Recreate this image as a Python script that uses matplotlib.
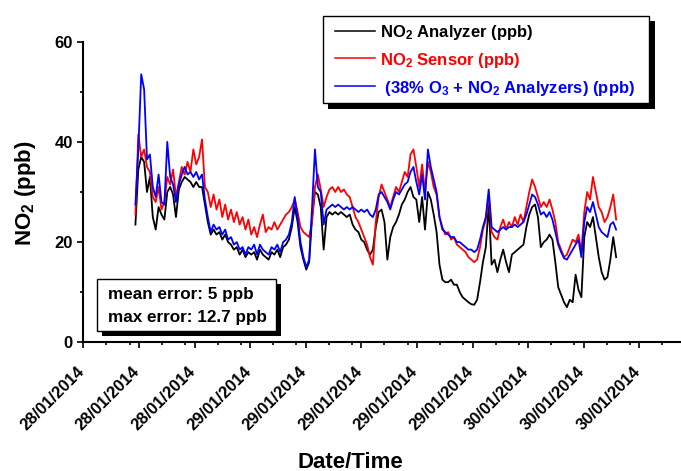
import matplotlib.pyplot as plt
import matplotlib.transforms as mtransforms
from matplotlib.patches import Rectangle
from matplotlib.lines import Line2D
import numpy as np

plt.rcParams['font.family'] = ['Liberation Sans', 'DejaVu Sans']
plt.rcParams['font.weight'] = 'bold'
plt.rcParams['mathtext.fontset'] = 'custom'
plt.rcParams['mathtext.rm'] = 'Liberation Sans:bold'
plt.rcParams['mathtext.it'] = 'Liberation Sans:bold'
plt.rcParams['mathtext.bf'] = 'Liberation Sans:bold'

# time in hours since 28/01/2014 00:00, one reading every 15 min
hours = np.arange(16.5, 58.01, 0.25)

analyzer = [
    23.5, 34.5,
    37, 36, 30, 33,   25, 22.5, 27, 25.5,   24.5, 30, 31, 29.5,   25, 30.5, 32, 33,
    32.5, 32, 31, 32,   31, 31, 27.5, 24,   21.5, 22.5, 21.5, 22,   20.5, 21.5, 20, 19.5,
    18.5, 19, 17.5, 18.5,   17, 18, 17.5, 18,   16.5, 18.5, 17.5, 17,   16.5, 18, 17.5, 18.5,
    17, 19, 19.5, 20.5,   23, 27, 24, 19,   16.5, 14.5, 16, 25,   30, 29.5, 27, 18.5,
    25, 26, 25.5, 26,   25.5, 26, 25.5, 25,   25.5, 23.5, 22.5, 22,   20.5, 20, 18.5, 17.5,
    18.5, 23, 26, 26.5,   24, 16.5, 21, 23,   24, 25.5, 27.5, 28.5,   30, 31, 29, 28.5,
    24, 29, 22.5, 30,   28.5, 25.5, 22, 15.5,   12.5, 12, 12, 12.5,   11.5, 11.5, 10, 9,
    8.5, 8, 7.6, 7.5,   8.5, 12, 16, 19,   27.5, 15.5, 16.5, 14,   16.5, 18.5, 16, 14,
    17.5, 18, 18.5, 19,   19.5, 23, 25.5, 27,   27.5, 25, 19, 20,   20.5, 21.5, 20.5, 16,
    11, 9.5, 8, 7,   8.5, 8, 13.5, 10.5,   9, 21, 24, 23,   25, 21, 17, 14,
    12.5, 13, 16.5, 21,
    17,
]

sensor = [
    25.5, 41.5,
    37, 38.5, 35, 34,   29, 28, 31, 26.5,   28, 33, 31.5, 34.5,   29, 32, 35, 33.5,
    36, 34, 38.5, 35.5,   37, 40.5, 31, 30,   27, 29.5, 26.5, 28.5,   25, 27.5, 24.5, 26.5,
    24, 26, 23.5, 25,   22.5, 24.5, 21.5, 23,   21, 23.5, 25.5, 22,   23, 22.5, 24, 22.5,
    23.5, 24.5, 25.5, 26,   27, 28.5, 26, 23,   22, 21.5, 21, 24,   31, 33.5, 30.5, 27,
    29, 30.5, 31, 30,   31, 30, 30.5, 29.5,   29, 27, 25, 24,   22.5, 21, 19.5, 17,
    15.5, 24, 29, 31.5,   30, 28.5, 27, 29,   31, 30, 32, 34,   33, 37.5, 38.5, 35,
    31, 35.5, 30, 36,   34, 31, 29.5, 25,   23, 21.5, 22, 20.5,   21, 19.5, 19, 18.5,
    18, 17, 16.5, 16,   16.5, 19, 22.5, 24.5,   29.5, 22, 21, 20.5,   23, 24.5, 22.5, 24,
    23, 25, 23.5, 25.5,   24, 27, 30, 32.5,   31, 29, 27, 28,   27, 28.5, 26.5, 24,
    20, 18.5, 17, 17.5,   19, 20.5, 20, 21.5,   18, 26, 30, 28.5,   33, 30, 27, 26,
    24, 25, 27, 29.5,
    24.5,
]

combined = [
    27.5, 38.5,
    53.5, 50.5, 36.5, 37.5,   31, 29, 33.5, 28,   27.5, 40, 33, 31.5,   28, 31.5, 33.5, 35,
    33.5, 34, 33, 34,   32.5, 33.5, 28.5, 25,   22, 23.5, 22.5, 23,   21.5, 22.5, 20.5, 21,
    19.5, 20, 18.5, 19,   17.5, 19, 18.5, 19.5,   17.5, 19.5, 18.5, 18,   17.5, 19, 18.5, 19.5,
    18, 20, 20.5, 21.5,   24, 29, 25, 20,   17, 15, 16.5, 27,   38.5, 31, 30, 23.5,
    26.5, 27, 27.5, 27,   27.5, 27, 26.5, 27,   26.5, 27, 26.5, 26,   26.5, 26, 26.5, 25.5,
    25, 26.5, 29.5, 30,   29, 28, 26.5, 28.5,   30, 29.5, 30.5, 31.5,   32, 34, 35, 32,
    29.5, 33.5, 28.5, 38.5,   35, 32.5, 30, 25,   22.5, 22, 21.5, 21,   21, 20, 20, 19.5,
    19, 18.5, 18.5, 18,   18.5, 20.5, 23, 25,   30.5, 23, 22.5, 22,   22.5, 23, 22.5, 23,
    23, 23.5, 23, 23.5,   24, 25.5, 27.5, 29.5,   29, 27.5, 25.5, 26,   25, 26, 24.5, 22,
    19.5, 18, 16.8, 16.5,   17.5, 18.5, 19.5, 20.5,   17, 24, 27, 26,   28, 25.5, 23, 22,
    21.5, 21, 23.5, 24,
    22.5,
]

major_ticks = [12, 16.8, 21.6, 26.4, 31.2, 36, 40.8, 45.6, 50.4, 55.2, 60]
minor_ticks = [14, 16, 18.8, 20.8, 23.6, 25.6, 28.4, 30.4, 33.2, 35.2, 38, 40,
               42.8, 44.8, 47.6, 49.6, 52.4, 54.4, 57.2, 59.2, 62]
tick_labels = ['28/01/2014', '28/01/2014', '28/01/2014',
               '29/01/2014', '29/01/2014', '29/01/2014', '29/01/2014', '29/01/2014',
               '30/01/2014', '30/01/2014', '30/01/2014']

W, H = 681, 471
fig = plt.figure(figsize=(W / 100, H / 100), dpi=100)
ax = fig.add_axes([83.3 / W, (H - 342.3) / H, 1 - 83.3 / W, (342.3 - 41.7) / H])

ax.plot(hours, analyzer, color='black', lw=1.3)
ax.plot(hours, sensor, color='#ff0000', lw=1.3)
ax.plot(hours, combined, color='#0000ff', lw=1.3)

ax.set_xlim(12, 63.6)
ax.set_ylim(0, 60)
ax.spines['top'].set_visible(False)
ax.spines['right'].set_visible(False)
for s in ['left', 'bottom']:
    ax.spines[s].set_linewidth(1.5)

ax.set_xticks(major_ticks)
ax.set_xticklabels(tick_labels, rotation=45, ha='right', va='top',
                   rotation_mode='anchor')
ax.set_xticks(minor_ticks, minor=True)
ax.set_yticks([0, 20, 40, 60])
ax.set_yticks([10, 30, 50], minor=True)
ax.tick_params(which='major', length=4.5, width=1.2, labelsize=12, pad=3)
ax.tick_params(axis='x', which='major', pad=11)
ax.tick_params(which='minor', length=2.5, width=1.2)
shift = mtransforms.ScaledTranslation(-0.07, 0, fig.dpi_scale_trans)
for lab in ax.get_xticklabels():
    lab.set_transform(lab.get_transform() + shift)
for lab in ax.get_xticklabels() + ax.get_yticklabels():
    lab.set_fontweight('bold')

fig.text(25 / W, 1 - 193 / H, r'NO$_2$ (ppb)', rotation=90, fontsize=16,
         fontweight='bold', ha='center', va='center')
fig.text(350 / W, 1 - 462 / H, 'Date/Time', fontsize=16, fontweight='bold',
         ha='center', va='center')


def px_rect(x0, y0, x1, y1, **kw):
    r = Rectangle((x0 / W, 1 - y1 / H), (x1 - x0) / W, (y1 - y0) / H,
                  transform=fig.transFigure, **kw)
    fig.add_artist(r)


# legend box with shadow
px_rect(328, 21, 654.5, 108.5, facecolor='black', edgecolor='none', zorder=5)
px_rect(323, 16, 649.3, 103.3, facecolor='white', edgecolor='black', lw=1, zorder=6)
legend_items = [
    (r'NO$_2$ Analyzer (ppb)', 'black', 30.7),
    (r'NO$_2$ Sensor (ppb)', '#ff0000', 58.3),
    (r' (38% O$_3$ + NO$_2$ Analyzers) (ppb)', '#0000ff', 86),
]
for label, col, yy in legend_items:
    fig.add_artist(Line2D([335 / W, 375 / W], [1 - yy / H, 1 - yy / H],
                          transform=fig.transFigure, color=col, lw=1.1, zorder=7))
    fig.text(380 / W, 1 - (yy + 6.5) / H, label, color=col, fontsize=12,
             fontweight='bold', ha='left', va='baseline', zorder=7)

# error box with shadow
px_rect(102, 284, 281, 336, facecolor='black', edgecolor='none', zorder=5)
px_rect(97, 279, 276, 331, facecolor='white', edgecolor='black', lw=1, zorder=6)
fig.text(108 / W, 1 - 299.3 / H, 'mean error: 5 ppb', fontsize=12.3,
         fontweight='bold', va='baseline', zorder=7)
fig.text(108 / W, 1 - 321.7 / H, 'max error: 12.7 ppb', fontsize=12.3,
         fontweight='bold', va='baseline', zorder=7)

plt.savefig('out.png', dpi=100)
